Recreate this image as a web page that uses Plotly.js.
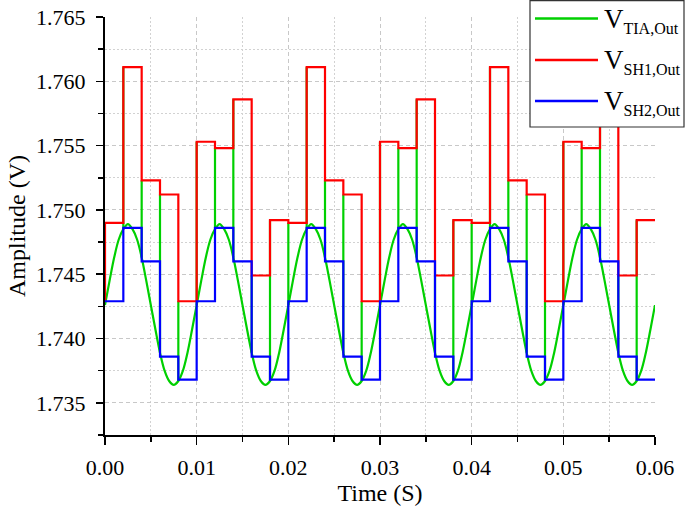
<!DOCTYPE html>
<html>
<head>
<meta charset="utf-8">
<script src="https://cdn.plot.ly/plotly-3.0.1.min.js"></script>
<style>html,body{margin:0;padding:0;background:#fff;}#chart{width:685px;height:508px;}</style>
</head>
<body>
<div id="chart"></div>
<script>
// Sample-and-hold step boundaries (s)
const stepTimes = [0.000,0.002,0.004,0.006,0.008,0.010,0.012,0.014,0.016,0.018,
                   0.020,0.022,0.024,0.026,0.028,0.030,0.032,0.034,0.036,0.038,
                   0.040,0.042,0.044,0.046,0.048,0.050,0.052,0.054,0.056,0.058,0.060];

// V_TIA,Out read every 0.5 ms (V)
const tiaStep = 0.0005;
const tiaValues = [
  1.7426,1.7445,1.7463,1.7477,1.7485,1.7489,1.7485,1.7477,1.7463,1.7445,
  1.7426,1.7407,1.7389,1.7375,1.7367,1.7364,1.7367,1.7375,1.7389,1.7407,
  1.7426,1.7445,1.7463,1.7477,1.7485,1.7489,1.7485,1.7477,1.7463,1.7445,
  1.7426,1.7407,1.7389,1.7375,1.7367,1.7364,1.7367,1.7375,1.7389,1.7407,
  1.7426,1.7445,1.7463,1.7477,1.7485,1.7489,1.7485,1.7477,1.7463,1.7445,
  1.7426,1.7407,1.7389,1.7375,1.7367,1.7364,1.7367,1.7375,1.7389,1.7407,
  1.7426,1.7445,1.7463,1.7477,1.7485,1.7489,1.7485,1.7477,1.7463,1.7445,
  1.7426,1.7407,1.7389,1.7375,1.7367,1.7364,1.7367,1.7375,1.7389,1.7407,
  1.7426,1.7445,1.7463,1.7477,1.7485,1.7489,1.7485,1.7477,1.7463,1.7445,
  1.7426,1.7407,1.7389,1.7375,1.7367,1.7364,1.7367,1.7375,1.7389,1.7407,
  1.7426,1.7445,1.7463,1.7477,1.7485,1.7489,1.7485,1.7477,1.7463,1.7445,
  1.7426,1.7407,1.7389,1.7375,1.7367,1.7364,1.7367,1.7375,1.7389,1.7407,
  1.7426
];

// V_SH1,Out held value in each 2 ms slot (V); value before the first sample
const sh1Start = 1.7429;
const sh1Values = [
  1.7490,1.7611,1.7523,1.7512,1.7429,1.7553,1.7548,1.7586,1.7449,1.7492,
  1.7490,1.7611,1.7523,1.7512,1.7429,1.7553,1.7548,1.7586,1.7449,1.7492,
  1.7490,1.7611,1.7523,1.7512,1.7429,1.7553,1.7548,1.7586,1.7449,1.7492
];

// V_SH2,Out held value in each 2 ms slot (V)
const sh2Values = [
  1.7429,1.7486,1.7460,1.7386,1.7368,
  1.7429,1.7486,1.7460,1.7386,1.7368,
  1.7429,1.7486,1.7460,1.7386,1.7368,
  1.7429,1.7486,1.7460,1.7386,1.7368,
  1.7429,1.7486,1.7460,1.7386,1.7368,
  1.7429,1.7486,1.7460,1.7386,1.7368
];

const legendNames = [
  'V<sub><span style="font-size:16px">TIA,Out</span></sub>',
  'V<sub><span style="font-size:16px">SH1,Out</span></sub>',
  'V<sub><span style="font-size:16px">SH2,Out</span></sub>'
];
const colors = ['rgb(0,208,0)','rgb(255,0,0)','rgb(0,0,255)'];

// ---- traces ----
const tiaX = tiaValues.map((v,i)=>+(i*tiaStep).toFixed(5));

// TIA switching spikes at each sampling instant, reaching the SH1 sampled level
const spikeX = [], spikeY = [];
for (let k = 1; k < stepTimes.length - 1; k++) {
  const t = stepTimes[k];
  const idx = tiaX.findIndex(x => Math.abs(x - t) < 1e-9);
  spikeX.push(t, t, null);
  spikeY.push(tiaValues[idx], sh1Values[k], null);
}

const sh1X = [stepTimes[0]].concat(stepTimes);
const sh1Y = [sh1Start].concat(sh1Values, [sh1Values[sh1Values.length-1]]);
const sh2X = stepTimes.slice();
const sh2Y = sh2Values.concat([sh2Values[sh2Values.length-1]]);

const font = 'Liberation Serif, Times New Roman, serif';
const LW = 2.2;
const traces = [
  {x: tiaX, y: tiaValues, type:'scatter', mode:'lines', name: legendNames[0], showlegend:false,
   line:{color:colors[0], width:LW, shape:'spline', smoothing:1}},
  {x: spikeX, y: spikeY, type:'scatter', mode:'lines', showlegend:false, hoverinfo:'skip',
   line:{color:colors[0], width:LW}},
  {x: sh1X, y: sh1Y, type:'scatter', mode:'lines', name: legendNames[1], showlegend:false,
   line:{color:colors[1], width:LW, shape:'hv'}},
  {x: sh2X, y: sh2Y, type:'scatter', mode:'lines', name: legendNames[2], showlegend:false,
   line:{color:colors[2], width:LW, shape:'hv'}}
];

// ---- legend box (paper coordinates; plot area 105..655 x 17..435 px) ----
const PL = 105, PW = 550, PB = 435, PH = 418;
const px = v => (v - PL) / PW;
const py = v => (PB - v) / PH;
const legendRows = [18.5, 60, 101];       // px rows of legend samples
const textMid = [20.5, 62, 103];          // px centers of legend texts
const shapes = [
  {type:'rect', xref:'paper', yref:'paper', x0:px(530), x1:px(684), y0:py(127), y1:py(0.6),
   line:{color:'#333', width:1.2}, fillcolor:'#fff', layer:'above'}
];
const annotations = [];
legendRows.forEach((r,i)=>{
  shapes.push({type:'line', xref:'paper', yref:'paper', x0:px(535), x1:px(598), y0:py(r), y1:py(r),
               line:{color:colors[i], width:2.6}, layer:'above'});
  annotations.push({xref:'paper', yref:'paper', x:px(601.5), y:py(textMid[i]),
                    xanchor:'left', yanchor:'middle', showarrow:false, text:legendNames[i],
                    font:{family:font, size:27, color:'#000'}});
});

const gridColor = '#c8c8c8';
const minorGrid = '#d2d2d2';
const layout = {
  width: 685, height: 508,
  margin: {l:105, r:30, t:17, b:73, pad:0, autoexpand:false},
  paper_bgcolor:'#fff', plot_bgcolor:'#fff',
  font: {family: font, color:'#000', size:22},
  showlegend: false,
  shapes: shapes,
  annotations: annotations,
  xaxis: {
    range:[0,0.06], dtick:0.01, tick0:0, tickformat:'.2f',
    ticks:'outside', ticklen:8, tickwidth:1.5, tickcolor:'#000',
    showline:true, linewidth:2, linecolor:'#000', mirror:false, zeroline:false,
    showgrid:true, gridcolor:gridColor, griddash:'4px,3px', gridwidth:1,
    minor:{dtick:0.005, ticks:'outside', ticklen:5, tickwidth:1.5, tickcolor:'#000',
           showgrid:true, gridcolor:minorGrid, griddash:'2px,2px', gridwidth:1},
    tickfont:{family:font, size:22, color:'#000'},
    ticklabelstandoff: 4,
    title:{text:'Time (S)', font:{family:font, size:24, color:'#000'}, standoff:4}
  },
  yaxis: {
    range:[1.7325,1.765], dtick:0.005, tick0:1.735, tickformat:'.3f',
    ticks:'outside', ticklen:7, tickwidth:1.5, tickcolor:'#000',
    showline:true, linewidth:2, linecolor:'#000', mirror:false, zeroline:false,
    showgrid:true, gridcolor:gridColor, griddash:'4px,3px', gridwidth:1,
    minor:{dtick:0.0025, ticks:'outside', ticklen:5, tickwidth:1.5, tickcolor:'#000',
           showgrid:true, gridcolor:minorGrid, griddash:'2px,2px', gridwidth:1},
    tickfont:{family:font, size:22, color:'#000'},
    ticklabelstandoff: 6,
    title:{text:'Amplitude (V)', font:{family:font, size:24, color:'#000'}, standoff:4}
  }
};

Plotly.newPlot('chart', traces, layout, {displayModeBar:false, staticPlot:true});
</script>
</body>
</html>
